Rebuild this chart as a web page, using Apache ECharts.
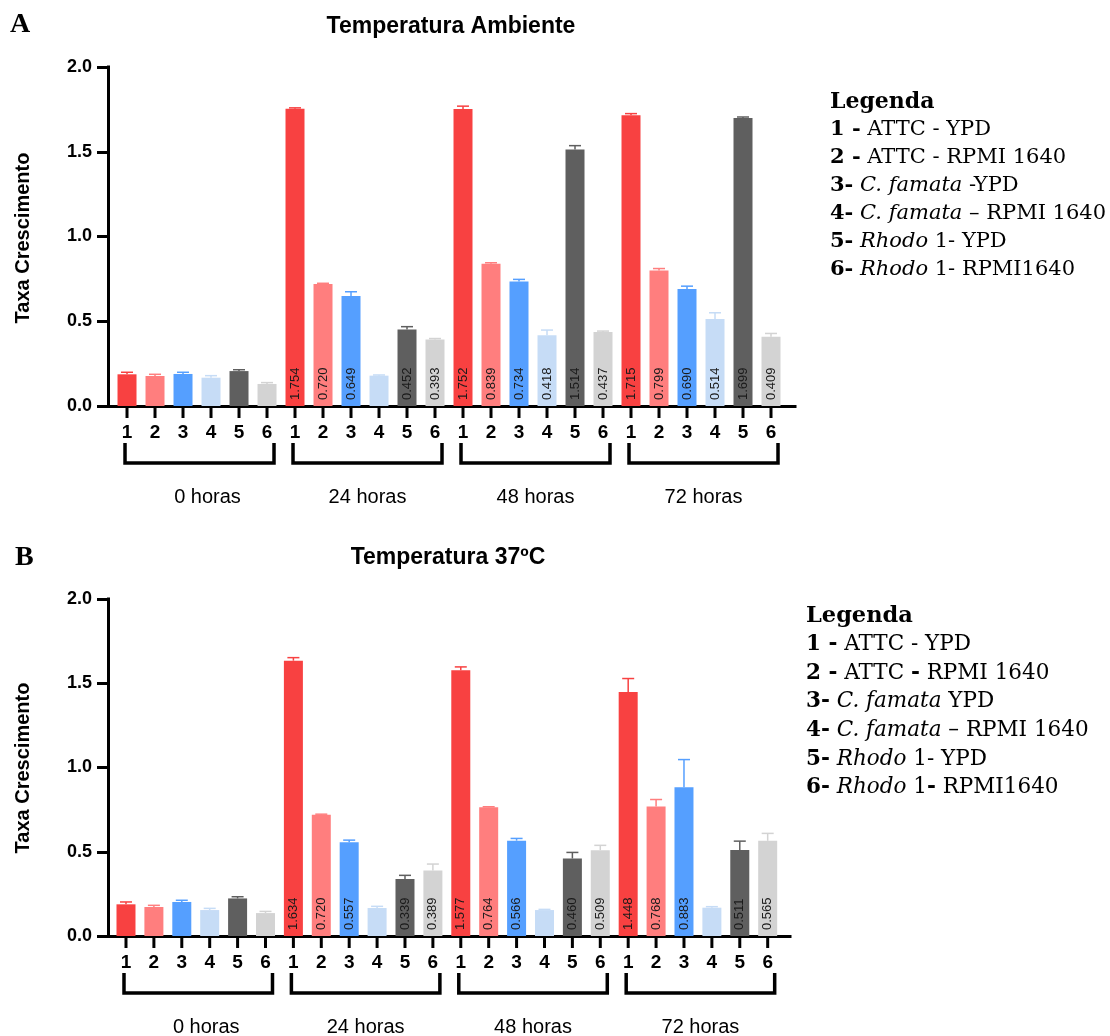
<!DOCTYPE html>
<html>
<head>
<meta charset="utf-8">
<script src="https://cdn.jsdelivr.net/npm/echarts@6/dist/echarts.min.js"></script>
<style>
html,body{margin:0;padding:0;background:#fff;}
#chart{width:1110px;height:1036px;}
</style>
</head>
<body>
<div id="chart"></div>
<script>
// ---------- DATA ----------
const tickLabels = ['1', '2', '3', '4', '5', '6'];
const groupLabels = ['0 horas', '24 horas', '48 horas', '72 horas'];

const titleA = 'Temperatura Ambiente';
const titleB = 'Temperatura 37ºC';
const yName = 'Taxa Crescimento';

const valuesA = [0.187, 0.177, 0.189, 0.167, 0.206, 0.130,
                 1.754, 0.720, 0.649, 0.179, 0.452, 0.393,
                 1.752, 0.839, 0.734, 0.418, 1.514, 0.437,
                 1.715, 0.799, 0.690, 0.514, 1.699, 0.409];
const errorsA = [0.012, 0.010, 0.010, 0.012, 0.008, 0.008,
                 0.005, 0.004, 0.025, 0.004, 0.016, 0.005,
                 0.017, 0.006, 0.013, 0.030, 0.022, 0.005,
                 0.010, 0.012, 0.017, 0.036, 0.006, 0.019];
const valuesB = [0.188, 0.172, 0.202, 0.154, 0.223, 0.136,
                 1.634, 0.720, 0.557, 0.166, 0.339, 0.389,
                 1.577, 0.764, 0.566, 0.154, 0.460, 0.509,
                 1.448, 0.768, 0.883, 0.168, 0.511, 0.565];
const errorsB = [0.014, 0.010, 0.010, 0.010, 0.010, 0.010,
                 0.018, 0.003, 0.012, 0.010, 0.021, 0.038,
                 0.020, 0.003, 0.013, 0.004, 0.036, 0.029,
                 0.080, 0.042, 0.164, 0.006, 0.052, 0.044];

const legendA = [
  '{h|Legenda}',
  '{b|1 -} ATTC - YPD',
  '{b|2 -} ATTC - RPMI 1640',
  '{b|3-} {i|C. famata} -YPD',
  '{b|4-} {i|C. famata} – RPMI 1640',
  '{b|5-} {i|Rhodo} 1- YPD',
  '{b|6-} {i|Rhodo} 1- RPMI1640'
];
const legendB = [
  '{h|Legenda}',
  '{b|1 -} ATTC - YPD',
  '{b|2 -} ATTC {b|-} RPMI 1640',
  '{b|3-} {i|C. famata} YPD',
  '{b|4-} {i|C. famata} – RPMI 1640',
  '{b|5-} {i|Rhodo} 1- YPD',
  '{b|6-} {i|Rhodo} 1{b|-} RPMI1640'
];

// ---------- STYLE ----------
const colors = ['#F84141', '#FF7E7E', '#559FFF', '#C6DCF6', '#5F5F5F', '#D3D3D3'];
const SANS = 'Liberation Sans, Arial, sans-serif';
const SERIF = 'DejaVu Serif, serif';

const chart = echarts.init(document.getElementById('chart'), null, {renderer: 'canvas'});

const panels = [
  {values: valuesA, errors: errorsA, grid: {left: 108, top: 67, width: 687, height: 339}, xmin: -0.679, xmax: 23.857},
  {values: valuesB, errors: errorsB, grid: {left: 108, top: 599, width: 682, height: 337}, xmin: -0.645, xmax: 23.80}
];

const grids = [], xAxes = [], yAxes = [], series = [];
panels.forEach((p, k) => {
  grids.push(Object.assign({containLabel: false}, p.grid));
  xAxes.push({
    type: 'value', gridIndex: k, min: p.xmin, max: p.xmax,
    axisLine: {show: true, onZero: false, lineStyle: {color: '#000', width: 3, cap: 'square'}},
    axisTick: {show: false}, axisLabel: {show: false}, splitLine: {show: false}
  });
  yAxes.push({
    type: 'value', gridIndex: k, min: 0, max: 2, interval: 0.5,
    axisLine: {show: true, onZero: false, lineStyle: {color: '#000', width: 3, cap: 'square'}},
    axisTick: {show: true, length: 11, lineStyle: {color: '#000', width: 3}},
    axisLabel: {color: '#000', fontFamily: SANS, fontWeight: 'bold', fontSize: 18, margin: 16,
      formatter: v => v.toFixed(1)},
    splitLine: {show: false}
  });
  series.push({
    type: 'bar', xAxisIndex: k, yAxisIndex: k, barWidth: 19, z: 2,
    data: p.values.map((v, i) => ({value: [i, v], itemStyle: {color: colors[i % 6]}})),
    label: {
      show: true, position: 'insideBottom', distance: 6, rotate: 90,
      align: 'left', verticalAlign: 'middle',
      fontFamily: SANS, fontSize: 13, color: '#1a1a1a',
      formatter: prm => prm.value[1] > 0.3 ? prm.value[1].toFixed(3) : ''
    }
  });
  // error bars (upper)
  series.push({
    type: 'custom', xAxisIndex: k, yAxisIndex: k, z: 3,
    data: p.values.map((v, i) => [i, v, p.errors[i]]),
    renderItem: (params, api) => {
      const x = api.value(0), v = api.value(1), e = api.value(2);
      const b = api.coord([x, v]), t = api.coord([x, v + e]);
      const c = colors[params.dataIndex % 6];
      return {type: 'group', children: [
        {type: 'line', shape: {x1: b[0], y1: b[1], x2: t[0], y2: t[1]}, style: {stroke: c, lineWidth: 1.5}},
        {type: 'line', shape: {x1: t[0] - 6, y1: t[1], x2: t[0] + 6, y2: t[1]}, style: {stroke: c, lineWidth: 1.5}}
      ]};
    }
  });
  // x ticks + tick labels
  series.push({
    type: 'custom', xAxisIndex: k, yAxisIndex: k, z: 4, clip: false,
    data: p.values.map((v, i) => [i, 0]),
    renderItem: (params, api) => {
      const pt = api.coord([api.value(0), 0]);
      return {type: 'group', children: [
        {type: 'line', shape: {x1: pt[0], y1: pt[1], x2: pt[0], y2: pt[1] + 12}, style: {stroke: '#000', lineWidth: 3}},
        {type: 'text', x: pt[0], y: pt[1] + 27, style: {text: tickLabels[params.dataIndex % 6], fill: '#000',
          font: 'bold 19px ' + SANS, textAlign: 'center', textVerticalAlign: 'middle'}}
      ]};
    }
  });
  // group brackets + labels
  series.push({
    type: 'custom', xAxisIndex: k, yAxisIndex: k, z: 4, clip: false,
    data: groupLabels.map((g, j) => [j * 6, j * 6 + 5]),
    renderItem: (params, api) => {
      const a = api.coord([api.value(0), 0]), b = api.coord([api.value(1), 0]);
      const xL = a[0] - 2, xR = b[0] + 7, y = a[1];
      return {type: 'group', children: [
        {type: 'polyline', shape: {points: [[xL, y + 37], [xL, y + 57], [xR, y + 57], [xR, y + 37]]},
          style: {stroke: '#000', lineWidth: 3.5, fill: null}},
        {type: 'text', x: (xL + xR) / 2 + (params.dataIndex === 0 ? 8 : 0), y: y + 91, style: {text: groupLabels[params.dataIndex], fill: '#000',
          font: '20px ' + SANS, textAlign: 'center', textVerticalAlign: 'middle'}}
      ]};
    }
  });
});

function legendGraphic(lines, x, y0, step, fs) {
  return lines.map((t, i) => ({
    type: 'text', x: x, y: y0 + i * step,
    style: {
      text: t, fill: '#000', fontFamily: SERIF, fontSize: fs, textVerticalAlign: 'middle',
      rich: {
        h: {fontFamily: SERIF, fontSize: fs + 1, fontWeight: 'bold', fill: '#000'},
        b: {fontFamily: SERIF, fontSize: fs, fontWeight: 'bold', fill: '#000'},
        i: {fontFamily: SERIF, fontSize: fs, fontStyle: 'italic', fill: '#000'}
      }
    }
  }));
}

const graphic = [
  {type: 'text', x: 10, y: 25, style: {text: 'A', fill: '#000', font: 'bold 28px Liberation Serif, serif', textVerticalAlign: 'middle'}},
  {type: 'text', x: 15, y: 558, style: {text: 'B', fill: '#000', font: 'bold 28px Liberation Serif, serif', textVerticalAlign: 'middle'}},
  {type: 'text', x: 451, y: 27, style: {text: titleA, fill: '#000', font: 'bold 23px ' + SANS, textAlign: 'center', textVerticalAlign: 'middle'}},
  {type: 'text', x: 448, y: 558, style: {text: titleB, fill: '#000', font: 'bold 23px ' + SANS, textAlign: 'center', textVerticalAlign: 'middle'}},
  {type: 'text', x: 23, y: 238, rotation: Math.PI / 2, style: {text: yName, fill: '#000', font: 'bold 20px ' + SANS, textAlign: 'center', textVerticalAlign: 'middle'}},
  {type: 'text', x: 23, y: 768, rotation: Math.PI / 2, style: {text: yName, fill: '#000', font: 'bold 20px ' + SANS, textAlign: 'center', textVerticalAlign: 'middle'}}
].concat(legendGraphic(legendA, 830, 102, 28, 21))
 .concat(legendGraphic(legendB, 806, 616, 28.6, 21.5));

chart.setOption({
  animation: false,
  grid: grids, xAxis: xAxes, yAxis: yAxes, series: series, graphic: graphic
});
</script>
</body>
</html>
